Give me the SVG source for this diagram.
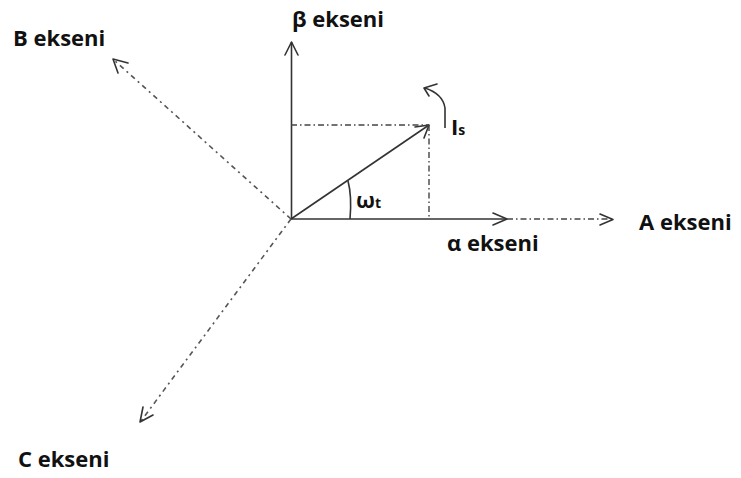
<svg xmlns="http://www.w3.org/2000/svg" width="741" height="478" viewBox="0 0 741 478">
<style>
.lbl{font-family:"Open Sans","Liberation Sans",sans-serif;font-weight:bold;font-size:22px;fill:#111}
.solid{stroke:#333;stroke-width:1.6;fill:none}
.dd{stroke:#444;stroke-width:1.4;fill:none;stroke-dasharray:6 3 1.5 3}
.ddg{stroke:#555;stroke-width:1.6;fill:none;stroke-dasharray:5 4 2 4}
.head{stroke:#333;stroke-width:1.6;fill:none;stroke-linecap:round;stroke-linejoin:round}
</style>
<rect width="741" height="478" fill="#fff"/>
<g id="connectors">
  <!-- beta axis -->
  <line class="solid" x1="291.5" y1="219" x2="291.5" y2="42"/>
  <polyline class="head" points="285,55 291.5,42 298,55"/>
  <!-- alpha axis -->
  <line class="solid" x1="291" y1="219" x2="507" y2="219"/>
  <polyline class="head" points="493,213 507,219 493,225"/>
  <!-- A axis continuation -->
  <line class="dd" x1="507" y1="219" x2="612" y2="219"/>
  <polyline class="head" points="600,214 613,219.5 600,225"/>
  <!-- B axis -->
  <line class="ddg" x1="291" y1="219" x2="114" y2="60"/>
  <polyline class="head" points="128,63 113,59 118,73"/>
  <!-- C axis -->
  <line class="ddg" x1="291" y1="219" x2="141" y2="421"/>
  <polyline class="head" points="143,407 140,422 153,415"/>
  <!-- Is vector -->
  <line class="solid" x1="291" y1="219" x2="429" y2="125"/>
  <polyline class="head" points="415,127 429,125 424,138"/>
  <!-- projections -->
  <line class="dd" x1="291" y1="125" x2="429" y2="125"/>
  <line class="dd" x1="429" y1="125" x2="429" y2="219"/>
  <!-- angle arc -->
  <path class="solid" d="M350,219 Q352,196 348,181"/>
  <!-- rotation arrow -->
  <path class="solid" d="M445,128 L445,108 Q443,94 425,88"/>
  <polyline class="head" points="437,84 424,88 429,96"/>
</g>
<g id="label-beta"><text class="lbl" x="292" y="27">β ekseni</text></g>
<g id="label-B"><text class="lbl" x="13" y="46">B ekseni</text></g>
<g id="label-C"><text class="lbl" x="18" y="467">C ekseni</text></g>
<g id="label-A"><text class="lbl" x="639" y="230">A ekseni</text></g>
<g id="label-alpha"><text class="lbl" x="447" y="251">α ekseni</text></g>
<g id="label-wt"><text class="lbl" x="356" y="208" font-size="20">ω<tspan font-size="14">t</tspan></text></g>
<g id="label-Is"><text class="lbl" x="451" y="135">I<tspan font-size="14">s</tspan></text></g>
</svg>
